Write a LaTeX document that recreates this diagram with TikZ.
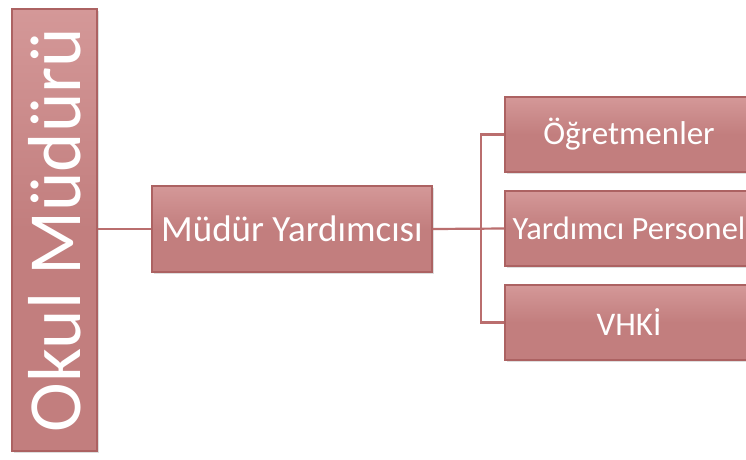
\documentclass[tikz,border=0pt]{standalone}
\usepackage{fontspec}
\setmainfont{Carlito}
\usetikzlibrary{shadows}
\definecolor{boxfill}{RGB}{194,126,126}
\definecolor{boxtop}{RGB}{212,152,152}
\definecolor{boxedge}{RGB}{172,98,98}
\definecolor{linec}{RGB}{186,110,110}
\tikzset{
  orgbox/.style={rectangle, draw=boxedge, line width=1.2pt, top color=boxtop, bottom color=boxfill,
    middle color=boxfill, shading angle=0, text=white, inner sep=0pt, anchor=center,
    drop shadow={shadow xshift=2pt, shadow yshift=-2pt, fill=black!25, opacity=0.5}},
  link/.style={draw=linec, line width=2.2pt}
}
\begin{document}
\begin{tikzpicture}[x=1pt,y=-1pt]
\useasboundingbox (0,0) rectangle (746,459);
\fill[white] (0,0) rectangle (746,459);
\node[orgbox, minimum width=85pt, minimum height=442pt] (okul) at (54.5,230)
  {\rotatebox{90}{\fontsize{75}{75}\selectfont Okul Müdürü}};
\node[orgbox, minimum width=280pt, minimum height=86pt] (my) at (292,229)
  {\fontsize{37}{37}\selectfont Müdür Yardımcısı};
\node[orgbox, minimum width=248pt, minimum height=75pt] (r1) at (629,134.5)
  {\fontsize{33}{33}\selectfont Öğretmenler};
\node[orgbox, minimum width=248pt, minimum height=75pt] (r2) at (629,228.5)
  {\fontsize{32.5}{32.5}\selectfont Yardımcı Personel};
\node[orgbox, minimum width=248pt, minimum height=75pt] (r3) at (629,322.5)
  {\fontsize{33}{33}\selectfont VHKİ};
\coordinate (j) at (481,228.5);
\path[link] (okul.east |- my.west) -- (my.west);
\path[link] (my.east) -- (r2.west);
\path[link] (r1.west) -| (j) |- (r3.west);
\end{tikzpicture}
\end{document}
